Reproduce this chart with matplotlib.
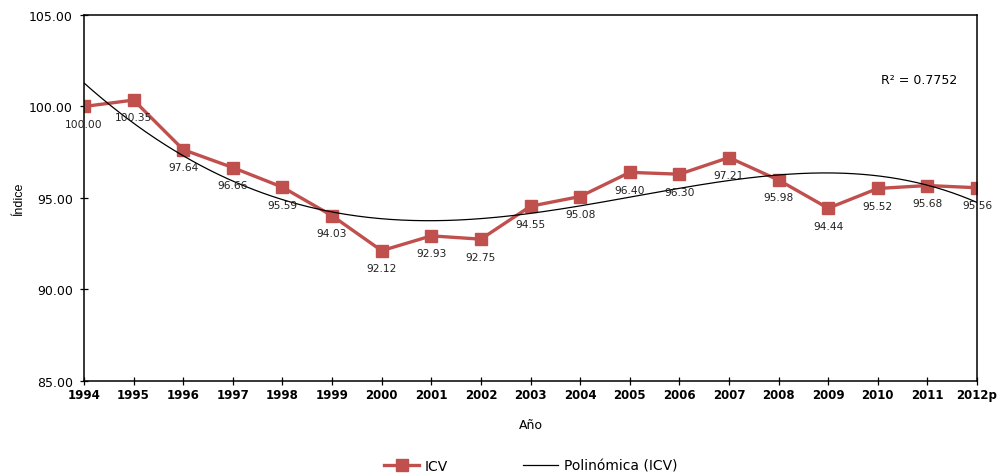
import numpy as np
import matplotlib
matplotlib.use("Agg")
import matplotlib.pyplot as plt

plt.rcParams['font.family'] = ['DejaVu Sans']

years = ['1994', '1995', '1996', '1997', '1998', '1999', '2000', '2001', '2002', '2003',
         '2004', '2005', '2006', '2007', '2008', '2009', '2010', '2011', '2012p']
icv = [100.00, 100.35, 97.64, 96.66, 95.59, 94.03, 92.12, 92.93, 92.75, 94.55,
       95.08, 96.40, 96.30, 97.21, 95.98, 94.44, 95.52, 95.68, 95.56]
poly_degree = 4
r2_text = 'R² = 0.7752'

x = np.arange(len(years))
y = np.array(icv)

fig = plt.figure(figsize=(10, 4.77), dpi=100)
ax = fig.add_axes([0.084, 0.1992, 0.893, 0.7673])

coef = np.polyfit(x + 1, y, poly_degree)
xs = np.linspace(0, len(years) - 1, 400)
ax.plot(xs, np.polyval(coef, xs + 1), color='black', lw=0.9, label='Polinómica (ICV)', zorder=3)
ax.plot(x, y, color='#C0504D', lw=2.4, marker='s', markersize=8.5, label='ICV', zorder=2)

for xi, yi in zip(x, y):
    ax.annotate(f'{yi:.2f}', (xi, yi), xytext=(0, -12.5), textcoords='offset points',
                ha='center', va='center', fontsize=7.7, color='#222222', zorder=4)

ax.set_xlim(0, len(years) - 1)
ax.set_ylim(85, 105)
ax.set_yticks([85, 90, 95, 100, 105])
ax.set_yticklabels([f'{v:.2f}' for v in [85, 90, 95, 100, 105]], fontsize=9)
ax.set_xticks(x)
ax.set_xticklabels(years, fontsize=8.5, fontweight='bold')
ax.tick_params(axis='both', direction='inout', length=6, width=0.9)
ax.tick_params(axis='y', pad=5)
ax.tick_params(axis='x', pad=2)
for s in ax.spines.values():
    s.set_linewidth(1.1)

ax.set_ylabel('Índice', fontsize=9, family='Liberation Sans')
ax.yaxis.set_label_coords(-0.066, 0.5)
ax.set_xlabel('Año', fontsize=9)
ax.xaxis.set_label_coords(0.5, -0.101)

ax.text(0.935, 0.825, r2_text, transform=ax.transAxes, ha='center', va='center', fontsize=9)

handles, labels = ax.get_legend_handles_labels()
fig.legend(handles[::-1], labels[::-1], loc='center', bbox_to_anchor=(0.531, 0.022), ncol=2,
           frameon=False, fontsize=10, columnspacing=5.4, handlelength=2.5, handletextpad=0.45)

fig.savefig('out.png', dpi=100)
